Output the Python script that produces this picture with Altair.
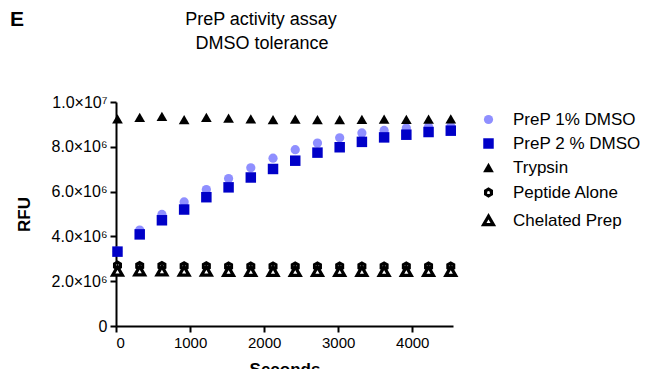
import altair as alt
import pandas as pd

times = [20, 320, 620, 920, 1220, 1520, 1820, 2120, 2420, 2720, 3020, 3320, 3620, 3920, 4220, 4520]

prep1 = [3.34e6, 4.28e6, 4.98e6, 5.54e6, 6.09e6, 6.58e6, 7.06e6, 7.49e6, 7.87e6, 8.17e6,
         8.40e6, 8.62e6, 8.73e6, 8.84e6, 8.89e6, 8.91e6]
prep2 = [3.32e6, 4.09e6, 4.72e6, 5.20e6, 5.75e6, 6.19e6, 6.63e6, 7.01e6, 7.38e6, 7.74e6,
         7.98e6, 8.22e6, 8.42e6, 8.54e6, 8.66e6, 8.72e6]
trypsin = [9.25e6, 9.31e6, 9.36e6, 9.21e6, 9.31e6, 9.28e6, 9.25e6, 9.21e6, 9.24e6, 9.21e6,
           9.21e6, 9.22e6, 9.24e6, 9.22e6, 9.24e6, 9.25e6]
peptide = [2.70e6, 2.68e6, 2.68e6, 2.67e6, 2.67e6, 2.66e6, 2.66e6, 2.66e6, 2.66e6, 2.66e6,
           2.66e6, 2.66e6, 2.66e6, 2.66e6, 2.66e6, 2.66e6]
chelated = [2.46e6, 2.47e6, 2.47e6, 2.46e6, 2.46e6, 2.45e6, 2.45e6, 2.45e6, 2.45e6, 2.45e6,
            2.45e6, 2.45e6, 2.45e6, 2.45e6, 2.45e6, 2.45e6]

series_names = ["PreP 1% DMSO", "PreP 2 % DMSO", "Trypsin", "Peptide Alone", "Chelated Prep"]
series_values = [prep1, prep2, trypsin, peptide, chelated]

y_ticks = [0, 2e6, 4e6, 6e6, 8e6, 1e7]
y_tick_labels = ["0", "2.0×10⁶", "4.0×10⁶", "6.0×10⁶", "8.0×10⁶", "1.0×10⁷"]
x_ticks = [0, 1000, 2000, 3000, 4000]

title_lines = ["PreP activity assay", "DMSO tolerance"]
panel_letter = "E"

# draw order: peptide, chelated, circles, squares, trypsin
draw_order = ["Peptide Alone", "Chelated Prep", "PreP 1% DMSO", "PreP 2 % DMSO", "Trypsin"]
rows = []
for name in draw_order:
    vals = series_values[series_names.index(name)]
    for t, v in zip(times, vals):
        rows.append({"Seconds": t, "RFU": v, "series": name, "ord": draw_order.index(name)})
df = pd.DataFrame(rows)

hexagon = "M0,-1L0.866,-0.5L0.866,0.5L0,1L-0.866,0.5L-0.866,-0.5Z"

label_map = "{" + ",".join(f"'{int(v)}':'{l}'" for v, l in zip(y_ticks, y_tick_labels)) + "}"

font = "Liberation Sans"

legend = alt.Legend(title=None, orient="none", legendX=364, legendY=9,
                    labelFontSize=17, labelFont=font, labelColor="black",
                    rowPadding=6, labelOffset=16, symbolOpacity=1)

points = alt.Chart(df).mark_point(opacity=1).encode(
    x=alt.X("Seconds:Q", scale=alt.Scale(domain=[0, 4550], nice=False),
            axis=alt.Axis(values=x_ticks, title="Seconds", titleFontSize=17, format="d",
                          titleFont=font, titleFontWeight="bold", titleColor="black",
                          labelFontSize=15, labelFont=font, labelColor="black",
                          domainColor="black", domainWidth=2, tickColor="black",
                          tickWidth=2, tickSize=6, grid=False, labelPadding=3,
                          titlePadding=11)),
    y=alt.Y("RFU:Q", scale=alt.Scale(domain=[0, 1e7], nice=False),
            axis=alt.Axis(values=y_ticks, title="RFU", titleFontSize=17,
                          titleFont=font, titleFontWeight="bold", titleColor="black",
                          labelFontSize=16, labelFont=font, labelColor="black",
                          labelExpr=f"{label_map}[''+datum.value]",
                          domainColor="black", domainWidth=2, tickColor="black",
                          tickWidth=2, tickSize=6, grid=False, labelPadding=3,
                          titlePadding=18)),
    shape=alt.Shape("series:N", scale=alt.Scale(domain=series_names,
                    range=["circle", "square", "triangle-up", hexagon, "triangle-up"]),
                    legend=legend),
    fill=alt.Fill("series:N", scale=alt.Scale(domain=series_names,
                  range=["#8f8fff", "#0000c8", "#000000", "#ffffff", "#ffffff"]),
                  legend=legend),
    stroke=alt.Stroke("series:N", scale=alt.Scale(domain=series_names,
                      range=["#8f8fff", "#0000c8", "#000000", "#000000", "#000000"]),
                      legend=legend),
    strokeWidth=alt.StrokeWidth("series:N", scale=alt.Scale(type="ordinal", domain=series_names,
                                range=[0, 0, 0, 3.2, 3.2]), legend=legend),
    size=alt.Size("series:N", scale=alt.Scale(type="ordinal", domain=series_names,
                  range=[85, 110, 115, 45, 95]), legend=legend),
    order=alt.Order("ord:Q"),
)

def label(text, x, y, size, weight="normal", align="center"):
    return alt.Chart(pd.DataFrame({"t": [text]})).mark_text(
        fontSize=size, fontWeight=weight, font=font, align=align,
        baseline="middle", color="black"
    ).encode(text="t:N", x=alt.value(x), y=alt.value(y))

panel = label(panel_letter, -106, -82, 21, weight="bold", align="left")
t1 = label(title_lines[0], 145, -82, 18)
t2 = label(title_lines[1], 146, -58, 18)

chart = alt.layer(points, panel, t1, t2).properties(
    width=337, height=224,
    autosize=alt.AutoSizeParams(type="none"),
    padding={"left": 108, "top": 94, "right": 193, "bottom": 43},
).configure_view(stroke=None)

chart.save("out.html", embed_options={"renderer": "svg", "actions": False})
